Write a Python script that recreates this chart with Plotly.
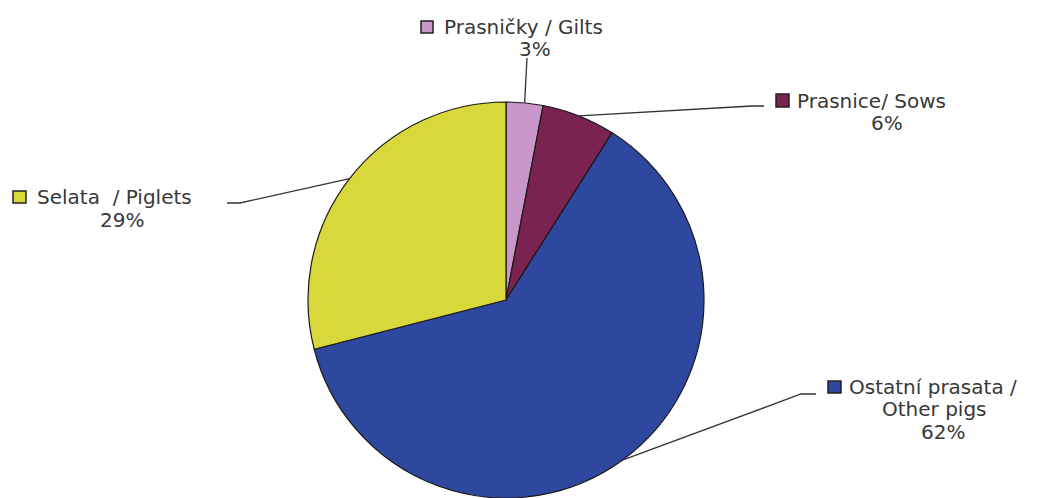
import math
import plotly.graph_objects as go

# ---------------- data ----------------
categories = ["Prasničky / Gilts", "Prasnice / Sows", "Ostatní prasata / Other pigs", "Selata / Piglets"]
values = [3, 6, 62, 29]
label_lines = [
    ["Prasničky / Gilts"],
    ["Prasnice/ Sows"],
    ["Ostatní prasata /", "Other pigs"],
    ["Selata\u00a0 / Piglets"],
]
slice_colors = ["#c896c8", "#7a2350", "#2e48a0", "#d8d83c"]

# ---------------- layout / style ----------------
W, H = 1040, 498
CX, CY, R = 506, 300, 198          # pie centre and radius in pixels
TEXT_COLOR = "#383838"
FONT = dict(family="DejaVu Sans", size=20, color=TEXT_COLOR)
LINE_COLOR = "#333333"

# label placement (pixels): key square box, first-line left x, line centres
label_style = [
    dict(key=(421, 21, 433, 33), x1=443, lines_y=[27], pct=(535, 49),
         leader=[(527, 58)]),
    dict(key=(776, 94, 789, 107), x1=796, lines_y=[101], pct=(887, 123),
         leader=[(764, 106), (752, 106)]),
    dict(key=(828, 381, 841, 393), x1=848, lines_y=[387, 409], pct=(943, 432),
         leader=[(816, 394), (801, 394)], centers=[None, 934]),
    dict(key=(13, 191, 26, 203), x1=36, lines_y=[197], pct=(122, 220),
         leader=[(227, 203), (240, 203)]),
]


def px(x):
    return x / W


def py(y):
    return 1 - y / H


fig = go.Figure(
    go.Pie(
        labels=categories,
        values=values,
        sort=False,
        direction="clockwise",
        rotation=0,
        marker=dict(colors=slice_colors, line=dict(color="#1a1a1a", width=1.2)),
        textinfo="none",
        hoverinfo="label+percent",
        showlegend=False,
        domain=dict(x=[px(CX - R), px(CX + R)], y=[py(CY + R), py(CY - R)]),
    )
)

total = sum(values)
cum = 0
shapes = []
annotations = []
for i, v in enumerate(values):
    mid = (cum + v / 2) / total * 2 * math.pi
    cum += v
    sx = CX + R * math.sin(mid)
    sy = CY - R * math.cos(mid)
    st = label_style[i]

    # leader line: from slice edge to label
    pts = [(sx, sy)] + list(reversed(st["leader"]))
    path = "M " + " L ".join(f"{px(x):.5f},{py(y):.5f}" for x, y in pts)
    shapes.append(dict(type="path", path=path, xref="paper", yref="paper",
                       line=dict(color=LINE_COLOR, width=1.3)))

    # legend key square
    x0, y0, x1, y1 = st["key"]
    shapes.append(dict(type="rect", xref="paper", yref="paper",
                       x0=px(x0), x1=px(x1), y0=py(y1), y1=py(y0),
                       fillcolor=slice_colors[i], line=dict(color="#222222", width=1.5)))

    # text lines
    centers = st.get("centers", [None] * len(label_lines[i]))
    for j, txt in enumerate(label_lines[i]):
        if centers[j] is None:
            annotations.append(dict(x=px(st["x1"]), y=py(st["lines_y"][j]), xref="paper", yref="paper",
                                    text=txt, showarrow=False, xanchor="left", yanchor="middle",
                                    font=FONT, borderpad=0))
        else:
            annotations.append(dict(x=px(centers[j]), y=py(st["lines_y"][j]), xref="paper", yref="paper",
                                    text=txt, showarrow=False, xanchor="center", yanchor="middle",
                                    font=FONT, borderpad=0))
    annotations.append(dict(x=px(st["pct"][0]), y=py(st["pct"][1]), xref="paper", yref="paper",
                            text=f"{v / total * 100:.0f}%", showarrow=False,
                            xanchor="center", yanchor="middle", font=FONT, borderpad=0))

fig.update_layout(
    width=W,
    height=H,
    margin=dict(l=0, r=0, t=0, b=0),
    paper_bgcolor="white",
    plot_bgcolor="white",
    shapes=shapes,
    annotations=annotations,
)

fig.write_html("out.html")
